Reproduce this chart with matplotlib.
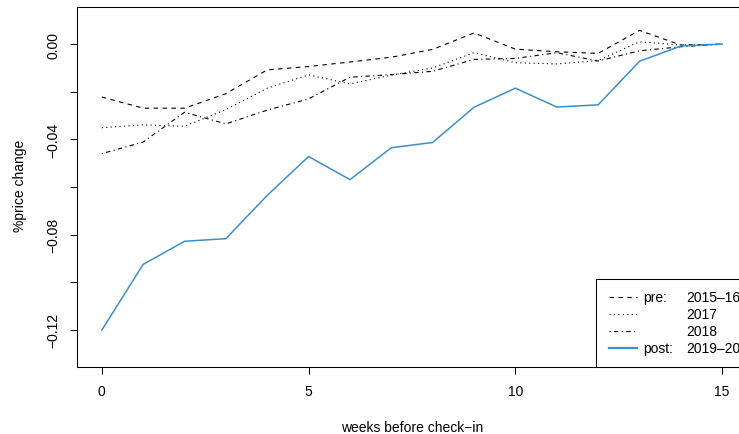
import matplotlib
matplotlib.use("Agg")
import matplotlib.pyplot as plt
from matplotlib.lines import Line2D
from matplotlib.patches import Rectangle

plt.rcParams['font.family'] = ['Liberation Sans', 'DejaVu Sans']

weeks = list(range(16))
pre_2015_16 = [-0.0222, -0.0269, -0.0269, -0.0208, -0.0108, -0.0094, -0.0075, -0.0055,
               -0.0022, 0.0047, -0.0021, -0.0032, -0.0039, 0.0058, -0.0004, 0.0]
y2017 = [-0.0351, -0.0339, -0.0345, -0.0275, -0.0185, -0.0129, -0.0167, -0.0130,
         -0.0100, -0.0036, -0.0078, -0.0083, -0.0069, 0.0010, -0.0004, 0.0]
y2018 = [-0.0460, -0.0411, -0.0286, -0.0335, -0.0277, -0.0230, -0.0139, -0.0128,
         -0.0114, -0.0064, -0.0060, -0.0036, -0.0071, -0.0028, -0.0011, 0.0]
post_2019_20 = [-0.1201, -0.0925, -0.0828, -0.0817, -0.0635, -0.0472, -0.0569, -0.0435,
                -0.0413, -0.0265, -0.0185, -0.0264, -0.0255, -0.0072, -0.0008, 0.0]

legend_prefix = ["pre:", "", "", "post:"]
legend_years = ["2015\u201316", "2017", "2018", "2019\u201320"]
xticks = [0, 5, 10, 15]
yticks = [0.00, -0.02, -0.04, -0.06, -0.08, -0.10, -0.12]
ytick_labels = ["0.00", "", "\u22120.04", "", "\u22120.08", "", "\u22120.12"]

W, H = 739, 435
fig = plt.figure(figsize=(W / 100, H / 100), dpi=100)
L, R, T, B = 77, 747, 8, 368
ax = fig.add_axes([L / W, 1 - B / H, (R - L) / W, (B - T) / H])

blue = "#3d8fc9"
lw = 0.8
styles = [
    (pre_2015_16, "black", (0, (4, 4))),
    (y2017, "black", (0, (1, 3))),
    (y2018, "black", (0, (1, 3, 4, 3))),
    (post_2019_20, blue, "-"),
]
for ys, c, ls in styles:
    ax.plot(weeks, ys, color=c, linestyle=ls, lw=lw if c == "black" else 1.1)

ax.set_xlim(-0.6, 15.6)
ax.set_ylim(-0.1356, 0.0156)
ax.set_xticks(xticks)
ax.set_yticks(yticks)
ax.set_yticklabels(ytick_labels, rotation=90, va="center")
fs = 10
ax.tick_params(axis="both", direction="out", length=5.2, width=0.75, labelsize=fs, color="black")
ax.tick_params(axis="x", pad=7)
ax.tick_params(axis="y", pad=7)
for s in ax.spines.values():
    s.set_linewidth(0.75)
    s.set_color("black")

def fx(x):
    return x / W

def fy(y):
    return 1 - y / H

fig.text(fx(412), fy(428), "weeks before check\u2212in", fontsize=fs, ha="center", va="center")
fig.text(fx(20), fy(186), "%price change", fontsize=fs, ha="center", va="center", rotation=90)

# legend drawn in pixel coords
box = Rectangle((fx(596), fy(368)), fx(747) - fx(596), fy(280) - fy(368),
                transform=fig.transFigure, facecolor="white", edgecolor="black", lw=0.75, zorder=5)
fig.add_artist(box)
rows = [298, 315, 332, 349]
for i, (ys, c, ls) in enumerate(styles):
    y = rows[i]
    fig.add_artist(Line2D([fx(609), fx(637)], [fy(y), fy(y)], transform=fig.transFigure,
                          color=c, linestyle=ls, lw=lw if c == "black" else 1.6, zorder=6))
    if legend_prefix[i]:
        fig.text(fx(643), fy(y), legend_prefix[i], fontsize=fs, va="center", ha="left", zorder=6)
    fig.text(fx(686), fy(y), legend_years[i], fontsize=fs, va="center", ha="left", zorder=6)

fig.savefig("out.png", dpi=100)
